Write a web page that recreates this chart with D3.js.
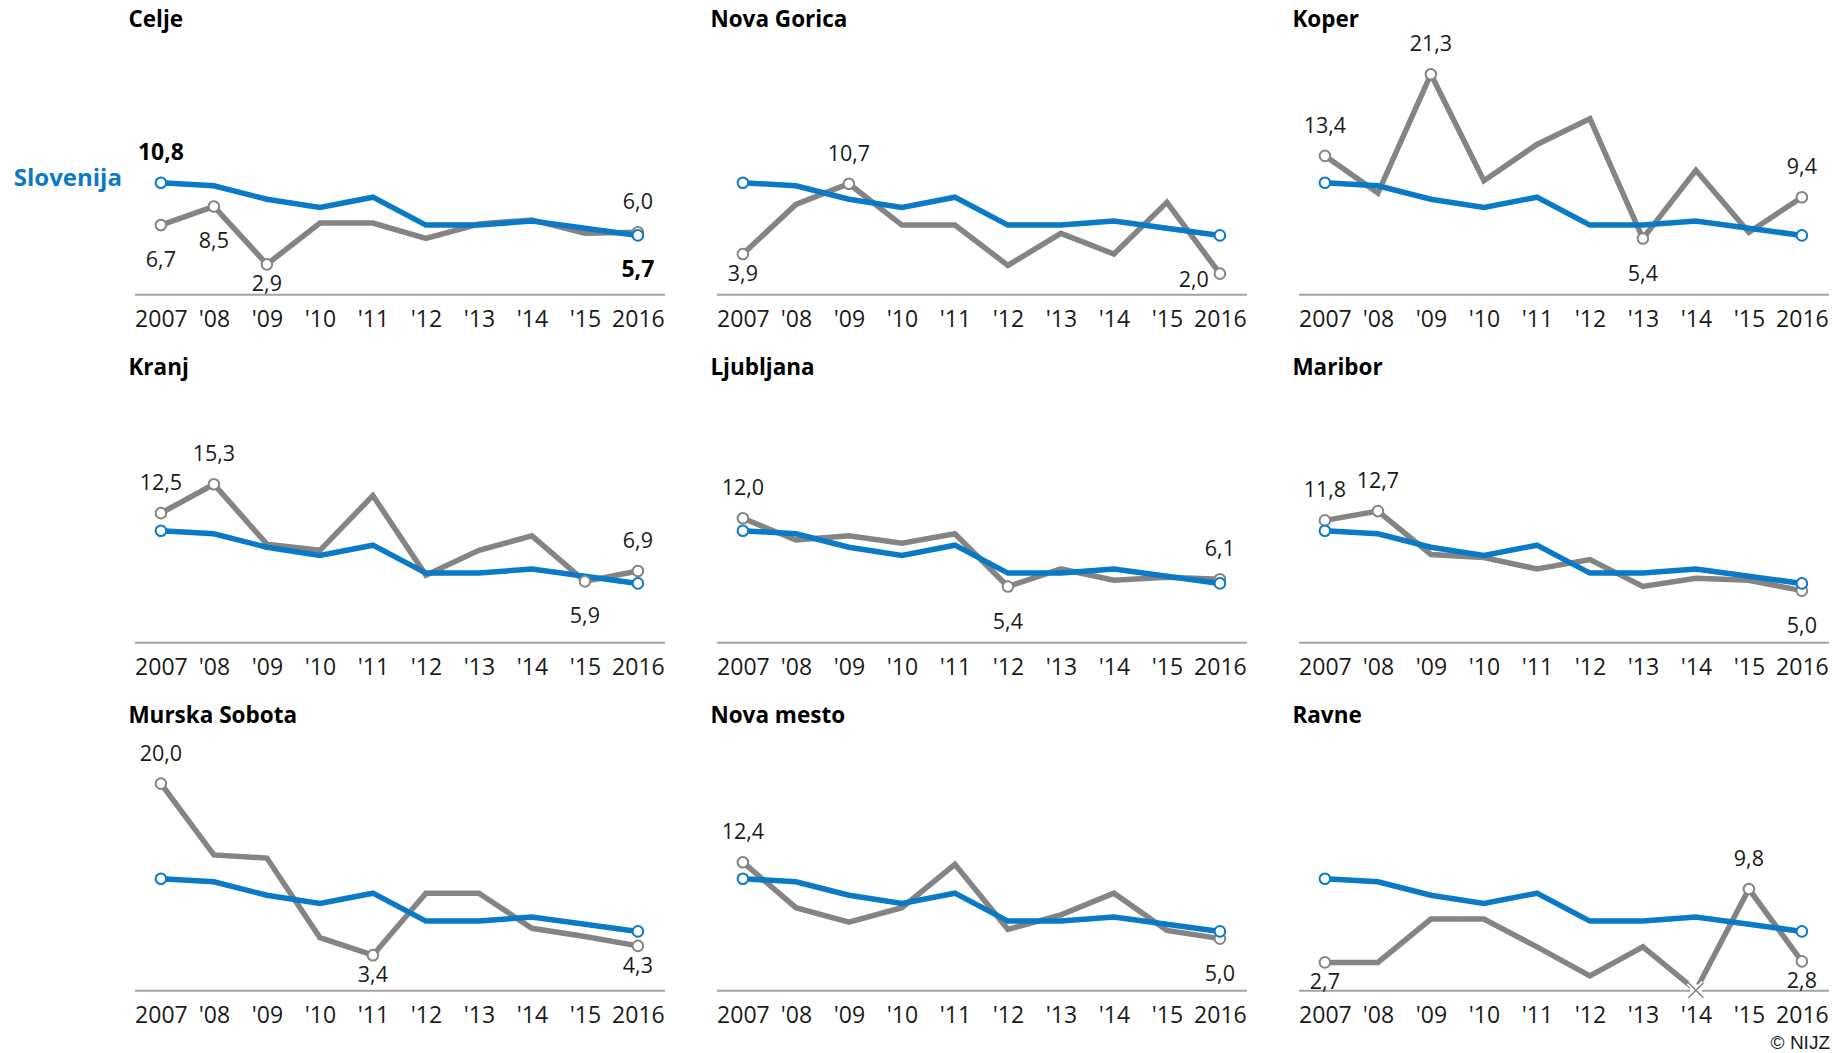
<!DOCTYPE html>
<html lang="sl">
<head>
<meta charset="utf-8">
<title>Slovenija in regije, 2007–2016</title>
<script src="https://cdn.jsdelivr.net/npm/d3@7"></script>
<style>
  html, body { margin: 0; padding: 0; background: #fff; }
  svg { display: block; font-family: "Open Sans", "Noto Sans", sans-serif; }
</style>
</head>
<body>
<svg id="chart" width="1845" height="1053"></svg>
<script>
// Years and their axis labels
const years = [2007, 2008, 2009, 2010, 2011, 2012, 2013, 2014, 2015, 2016];
const tickLabels = ["2007", "'08", "'09", "'10", "'11", "'12", "'13", "'14", "'15", "2016"];

// National series, repeated in every panel
const slovenija = [10.8, 10.5, 9.2, 8.4, 9.4, 6.7, 6.7, 7.1, 6.4, 5.7];

// Regional series
const regionNames = ["Celje", "Nova Gorica", "Koper", "Kranj", "Ljubljana", "Maribor", "Murska Sobota", "Nova mesto", "Ravne"];
const celje       = [6.7, 8.5, 2.9, 6.9, 6.9, 5.4, 6.8, 7.2, 5.9, 6.0];
const novaGorica  = [3.9, 8.7, 10.7, 6.7, 6.7, 2.8, 5.9, 3.9, 8.9, 2.0];
const koper       = [13.4, 9.8, 21.3, 11.0, 14.5, 17.0, 5.4, 12.0, 6.0, 9.4];
const kranj       = [12.5, 15.3, 9.5, 8.9, 14.2, 6.5, 8.9, 10.3, 5.9, 6.9];
const ljubljana   = [12.0, 9.9, 10.3, 9.6, 10.5, 5.4, 7.1, 6.0, 6.3, 6.1];
const maribor     = [11.8, 12.7, 8.5, 8.2, 7.1, 8.0, 5.4, 6.2, 6.0, 5.0];
const murskaSobota = [20.0, 13.1, 12.8, 5.1, 3.4, 9.4, 9.4, 6.0, 5.2, 4.3];
const novoMesto   = [12.4, 8.0, 6.6, 8.0, 12.2, 5.9, 7.3, 9.4, 5.8, 5.0];
const ravne       = [2.7, 2.7, 6.9, 6.9, 4.2, 1.4, 4.2, 0, 9.8, 2.8];
const regionSeries = [celje, novaGorica, koper, kranj, ljubljana, maribor, murskaSobota, novoMesto, ravne];

// Which points of each regional series carry a value label, and on which side
const regionLabels = [
  [[0, "below"], [1, "below"], [2, "near"], [9, "above"]],
  [[0, "near"], [2, "above"], [9, "left"]],
  [[0, "above"], [2, "above"], [6, "below"], [9, "above"]],
  [[0, "above"], [1, "above"], [8, "below"], [9, "above"]],
  [[0, "above"], [5, "below"], [9, "above"]],
  [[0, "above"], [1, "above"], [9, "below"]],
  [[0, "above"], [4, "near"], [9, "near"]],
  [[0, "above"], [9, "below"]],
  [[0, "near"], [8, "above"], [9, "near"]]
];
// National labels shown in the first panel only
const slovenijaLabels = [[0, "above"], [9, "below"]];

// ---- layout ----
const svg = d3.select("#chart");
const plotW = 530, plotH = 258.3;
const colStep = 582, rowStep = 348;
const left0 = 134.4, base0 = 294.3;

const blue = "#0a79c6", grey = "#848484", axisGrey = "#a3a3a3", ink = "#1a1a1a";

const x = d3.scalePoint().domain(years).range([0, plotW]).padding(0.5);
const y = d3.scaleLinear().domain([0, 25]).range([plotH, 0]);

const line = d3.line()
  .x((d, i) => x(years[i]))
  .y(d => y(d));

const fmt = v => d3.format(".1f")(v).replace(".", ",");

function placeLabel(sel, placement) {
  if (placement === "above") sel.attr("dy", -23).attr("text-anchor", "middle");
  else if (placement === "below") sel.attr("dy", 42).attr("text-anchor", "middle");
  else if (placement === "near") sel.attr("dy", 27).attr("text-anchor", "middle");
  else if (placement === "left") sel.attr("dy", 13).attr("dx", -11).attr("text-anchor", "end");
}

regionNames.forEach((name, k) => {
  const col = k % 3, row = Math.floor(k / 3);
  const g = svg.append("g")
    .attr("transform", `translate(${left0 + col * colStep},${base0 + row * rowStep - plotH})`);
  const data = regionSeries[k];

  // title
  g.append("text")
    .attr("x", -6).attr("y", plotH - 267)
    .attr("font-size", 22.5).attr("font-weight", 700).attr("fill", "#000")
    .text(name);

  // baseline + year labels
  const axis = g.append("g")
    .attr("transform", `translate(0,${plotH})`)
    .call(d3.axisBottom(x).tickSize(0).tickSizeOuter(0).tickFormat((d, i) => tickLabels[i]));
  axis.select(".domain").attr("stroke", axisGrey).attr("stroke-width", 2);
  axis.selectAll(".tick text")
    .attr("y", 33).attr("dy", 0)
    .attr("font-size", 23).attr("font-family", "Open Sans, Noto Sans, sans-serif")
    .attr("fill", ink);

  // lines
  g.append("path").datum(data)
    .attr("d", line).attr("fill", "none")
    .attr("stroke", grey).attr("stroke-width", 5.5);
  g.append("path").datum(slovenija)
    .attr("d", line).attr("fill", "none")
    .attr("stroke", blue).attr("stroke-width", 5.5);

  // regional markers: circles on labelled points, a cross where the value is zero
  const labelled = regionLabels[k];
  g.selectAll("circle.reg").data(labelled.filter(([i]) => data[i] > 0)).join("circle")
    .attr("class", "reg")
    .attr("cx", ([i]) => x(years[i])).attr("cy", ([i]) => y(data[i]))
    .attr("r", 5.3).attr("fill", "#fff").attr("stroke", grey).attr("stroke-width", 2);

  const zeros = data.map((v, i) => i).filter(i => data[i] === 0);
  zeros.forEach(i => {
    const cx = x(years[i]), cy = y(0), s = 7.5;
    const cross = `M${cx - s},${cy - s}L${cx + s},${cy + s}M${cx - s},${cy + s}L${cx + s},${cy - s}`;
    g.append("circle").attr("cx", cx).attr("cy", cy).attr("r", 6).attr("fill", "#fff");
    g.append("path").attr("d", cross).attr("stroke", "#fff").attr("stroke-width", 5);
    g.append("path").attr("d", cross).attr("stroke", grey).attr("stroke-width", 1.6);
  });

  // national end markers
  g.selectAll("circle.nat").data([0, years.length - 1]).join("circle")
    .attr("class", "nat")
    .attr("cx", i => x(years[i])).attr("cy", i => y(slovenija[i]))
    .attr("r", 5.3).attr("fill", "#fff").attr("stroke", blue).attr("stroke-width", 2);

  // value labels
  labelled.forEach(([i, p]) => {
    g.append("text")
      .attr("x", x(years[i])).attr("y", y(data[i]))
      .attr("font-size", 21.5).attr("fill", ink)
      .text(fmt(data[i]))
      .call(placeLabel, p);
  });

  if (k === 0) {
    slovenijaLabels.forEach(([i, p]) => {
      g.append("text")
        .attr("x", x(years[i])).attr("y", y(slovenija[i]))
        .attr("font-size", 23).attr("font-weight", 700).attr("fill", "#000")
        .text(fmt(slovenija[i]))
        .call(placeLabel, p);
    });
    g.append("text")
      .attr("x", -12.5).attr("y", y(slovenija[0]) + 3)
      .attr("text-anchor", "end")
      .attr("font-size", 24).attr("font-weight", 700).attr("fill", blue)
      .text("Slovenija");
  }
});

svg.append("text")
  .attr("x", 1830).attr("y", 1048.5)
  .attr("text-anchor", "end")
  .attr("font-family", "Liberation Sans, Arial, sans-serif")
  .attr("font-size", 19).attr("fill", ink)
  .text("© NIJZ");
</script>
</body>
</html>
